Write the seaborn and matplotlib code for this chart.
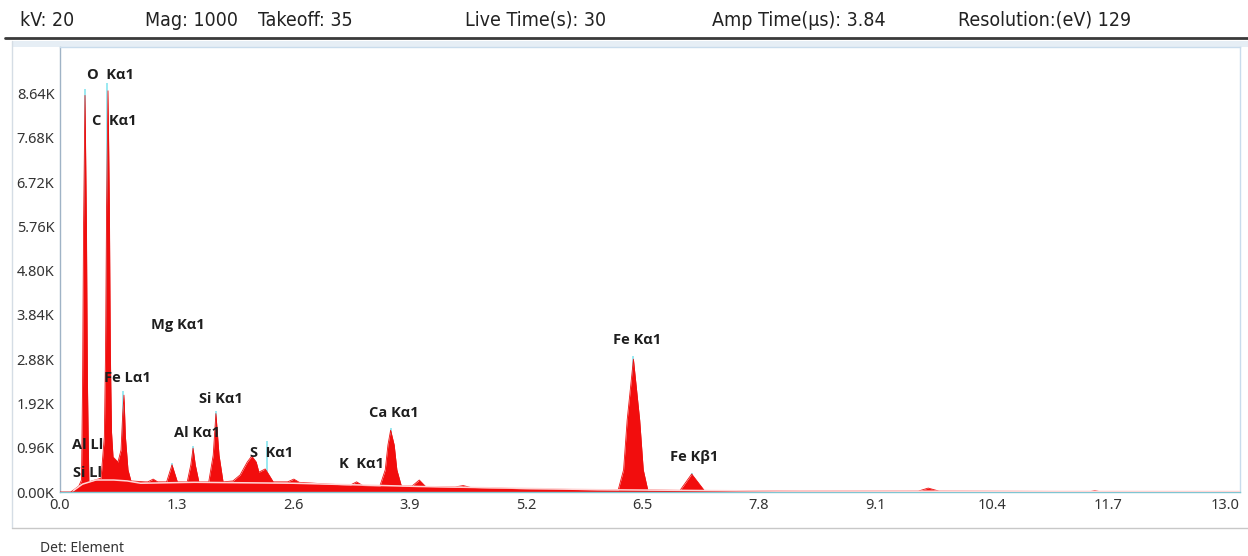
import matplotlib
matplotlib.use("Agg")
import matplotlib.pyplot as plt
from matplotlib.lines import Line2D
from matplotlib.patches import Rectangle
from matplotlib.ticker import FuncFormatter
import numpy as np
import pandas as pd
import seaborn as sns

# ---------------- data ----------------
energy_kev = [0.00, 0.12, 0.17, 0.21, 0.240, 0.252, 0.263, 0.279, 0.295, 0.306, 0.322, 0.39, 0.458,
              0.495, 0.508, 0.520, 0.536, 0.551, 0.562, 0.575, 0.592, 0.647, 0.681, 0.700, 0.714, 0.730,
              0.759, 0.792, 0.95, 0.98, 1.04, 1.09, 1.19, 1.25, 1.31, 1.42, 1.46, 1.485,
              1.51, 1.55, 1.66, 1.71, 1.74, 1.775, 1.82, 1.93, 2.01, 2.09, 2.14, 2.19, 2.22,
              2.25, 2.29, 2.32, 2.38, 2.54, 2.61, 2.67, 3.01, 3.24, 3.31, 3.38, 3.57, 3.63,
              3.66, 3.69, 3.73, 3.76, 3.81, 3.93, 4.01, 4.08, 4.41, 4.50, 4.58, 5.25, 6.23,
              6.29, 6.33, 6.40, 6.47, 6.51, 6.56, 6.92, 7.05, 7.19, 8.26, 9.58, 9.69, 9.81,
              11.50, 11.55, 11.60, 13.17]
counts = [0, 0, 70, 130, 260, 2400, 5800, 8600, 5800, 2400, 220, 260, 300,
          1200, 3000, 6200, 8700, 6200, 3000, 1300, 760, 650, 910, 1700, 2100, 1200,
          480, 240, 220, 220, 280, 220, 220, 590, 220, 220, 590, 950,
          590, 220, 220, 800, 1700, 800, 220, 240, 370, 650, 780, 650, 430,
          460, 500, 410, 220, 220, 280, 210, 170, 150, 220, 140, 130, 480,
          1020, 1340, 1020, 480, 130, 130, 260, 120, 110, 140, 100, 65, 45,
          480, 1560, 2880, 1560, 480, 45, 35, 390, 35, 20, 20, 85, 20,
          10, 30, 10, 10]

# background (continuum fit) curve
bg_kev = [0.15, 0.25, 0.40, 0.60, 0.75, 0.90, 1.50, 2.60, 4.00, 6.00, 8.00, 13.17]
bg_counts = [30, 170, 260, 260, 240, 190, 210, 190, 120, 50, 20, 10]

# element line markers
marker_kev = [0.277, 0.525, 0.705, 1.254, 1.487, 1.740, 2.307, 3.690, 6.400, 7.058]
marker_counts = [8750, 8870, 2180, 620, 990, 1760, 1100, 1380, 2950, 420]

# peak labels
label_text = ["O  Kα1", "C  Kα1", "Mg Kα1", "Fe Lα1", "Si Kα1", "Al Kα1", "S  Kα1",
              "Al Ll", "Si Ll", "K  Kα1", "Ca Kα1", "Fe Kα1", "Fe Kβ1"]
label_kev = [0.56, 0.60, 1.31, 0.75, 1.79, 1.53, 2.36, 0.31, 0.31, 3.36, 3.73, 6.44, 7.08]
label_counts = [9050, 8050, 3620, 2470, 2020, 1280, 850, 1020, 410, 610, 1710, 3300, 760]

x_ticks = [0.0, 1.3, 2.6, 3.9, 5.2, 6.5, 7.8, 9.1, 10.4, 11.7, 13.0]
y_ticks = [0, 960, 1920, 2880, 3840, 4800, 5760, 6720, 7680, 8640]

header_items = ["kV: 20", "Mag: 1000", "Takeoff: 35", "Live Time(s): 30",
                "Amp Time(µs): 3.84", "Resolution:(eV) 129"]
header_x_px = [20, 145, 258, 465, 712, 958]

# ---------------- drawing ----------------
sns.set_style("white")
plt.rcParams['font.family'] = ['Noto Sans', 'DejaVu Sans']

W, H = 1248, 556
fig = plt.figure(figsize=(W / 100, H / 100), dpi=100)
fig.patch.set_facecolor("white")
ax = fig.add_axes([60 / W, 64 / H, 1180 / W, 445 / H])

df = pd.DataFrame({"keV": energy_kev, "counts": counts})
bg = pd.DataFrame({"keV": bg_kev, "counts": bg_counts})

# markers behind the fill
ax.vlines(marker_kev, 0, marker_counts, color="#7fe3ee", lw=1.1, zorder=1)
ax.fill_between(df["keV"], 0, df["counts"], color="#f20d0d", lw=0, zorder=2)
sns.lineplot(data=df, x="keV", y="counts", ax=ax, color="#ee1111", lw=0.6,
             zorder=3, sort=False, estimator=None)
sns.lineplot(data=bg, x="keV", y="counts", ax=ax, color="#ffd6d6", lw=1.1,
             zorder=4, sort=False, estimator=None)

for t, xk, yc in zip(label_text, label_kev, label_counts):
    ax.text(xk, yc, t, ha="center", va="center", fontsize=10.5, fontweight="bold",
            family=["Open Sans", "Liberation Sans", "DejaVu Sans"],
            color="#1e1e1e", zorder=6)

ax.set_xlim(0, 13.17)
ax.set_ylim(0, 9650)
ax.set_xticks(x_ticks)
ax.set_xticklabels([f"{v:.1f}" for v in x_ticks])
ax.set_yticks(y_ticks)
ax.yaxis.set_major_formatter(FuncFormatter(lambda v, p: f"{v/1000:.2f}K"))
ax.tick_params(axis="both", labelsize=10.5, length=3, width=0.8, pad=1, direction="out")
ax.tick_params(axis="x", colors="#999999", labelcolor="#333333")
ax.tick_params(axis="y", colors="#999999", labelcolor="#333333")
ax.set_xlabel("")
ax.set_ylabel("")

ax.spines["left"].set_color("#9fb3c6")
ax.spines["bottom"].set_color("#7fc6d2")
ax.spines["top"].set_color("#c9dcec")
ax.spines["right"].set_color("#c9dcec")
for s in ax.spines.values():
    s.set_linewidth(1.0)
ax.grid(False)

# ---------------- frame decorations ----------------
fig.add_artist(Rectangle((12 / W, 1 - 47 / H), 1 - 12 / W, 6 / H,
                         transform=fig.transFigure, color="#e6eef5", lw=0, zorder=0))
fig.add_artist(Line2D([5 / W, 1], [1 - 38 / H, 1 - 38 / H], transform=fig.transFigure,
                      color="#3a3a3a", lw=2))
fig.add_artist(Line2D([12 / W, 12 / W], [1 - 41 / H, 1 - 528 / H], transform=fig.transFigure,
                      color="#d5dde5", lw=1))
fig.add_artist(Line2D([12 / W, 1], [1 - 528 / H, 1 - 528 / H], transform=fig.transFigure,
                      color="#c8c8c8", lw=1))

for t, xp in zip(header_items, header_x_px):
    fig.text(xp / W, 1 - 20 / H, t, ha="left", va="center", fontsize=14,
             family=["DejaVu Sans"], fontstretch="condensed",
             color="#222222")

fig.text(40 / W, 1 - 548 / H, "Det: Element", ha="left", va="center", fontsize=10,
         color="#333333")

fig.savefig("out.png", dpi=100, facecolor="white")
